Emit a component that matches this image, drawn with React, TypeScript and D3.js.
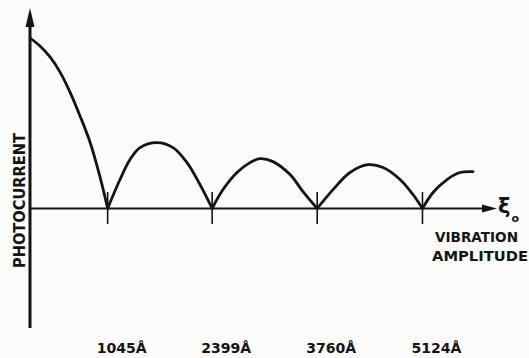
import React from "react";
import * as d3 from "d3";

// Tick values (vibration amplitude, Å) marking zeros of photocurrent
const zeroTicks = [1045, 2399, 3760, 5124];
const tickLabels = ["1045Å", "2399Å", "3760Å", "5124Å"];

// Curve segments: [amplitude Å, relative photocurrent]
const hump0: [number, number][] = [
  [39, 1.0], [168, 0.953], [298, 0.889], [428, 0.8], [557, 0.683],
  [687, 0.543], [816, 0.39], [946, 0.185], [1045, 0],
];
const hump1: [number, number][] = [
  [1045, 0], [1205, 0.17], [1335, 0.287], [1464, 0.357], [1684, 0.386],
  [1892, 0.357], [2073, 0.269], [2242, 0.14], [2399, 0],
];
const hump2: [number, number][] = [
  [2399, 0], [2540, 0.111], [2721, 0.211], [2889, 0.269], [3019, 0.292],
  [3187, 0.275], [3408, 0.199], [3576, 0.099], [3760, 0],
];
const hump3: [number, number][] = [
  [3760, 0], [3965, 0.111], [4185, 0.211], [4418, 0.257], [4613, 0.24],
  [4833, 0.17], [5001, 0.082], [5124, 0],
];
const hump4: [number, number][] = [
  [5124, 0], [5261, 0.094], [5442, 0.17], [5610, 0.211], [5779, 0.216],
];
const segments = [hump0, hump1, hump2, hump3, hump4];

const W = 529;
const H = 358;

export default function App() {
  const x = d3.scaleLinear().domain([0, 6000]).range([27, 27 + 0.07718 * 6000]);
  const baseY = 208.5;
  const y = d3.scaleLinear().domain([0, 1]).range([baseY, 38]);
  const line = d3
    .line<[number, number]>()
    .x((d) => x(d[0]))
    .y((d) => y(d[1]))
    .curve(d3.curveCatmullRom.alpha(0.5));

  const axisX = 30;
  const ink = "#141414";
  const font = "'DejaVu Sans', 'Liberation Sans', sans-serif";

  return (
    <svg
      width={W}
      height={H}
      style={{ position: "absolute", left: 0, top: 0, background: "#fbfbfa" }}
    >
      <rect width={W} height={H} fill="#fbfbfa" />
      {/* vertical axis */}
      <line x1={axisX} x2={axisX} y1={24} y2={328} stroke={ink} strokeWidth={3} />
      <path d={`M${axisX},8 L${axisX - 4.5},27 L${axisX + 4.5},27 Z`} fill={ink} />
      {/* horizontal axis */}
      <line x1={axisX} x2={485} y1={baseY} y2={baseY} stroke={ink} strokeWidth={2} />
      <path d={`M497,${baseY} L482,${baseY - 4} L482,${baseY + 4} Z`} fill={ink} />
      {/* ticks */}
      {zeroTicks.map((t) => (
        <line key={t} x1={x(t)} x2={x(t)} y1={192} y2={224} stroke={ink} strokeWidth={1.6} />
      ))}
      {/* curve */}
      {segments.map((s, i) => (
        <path
          key={i}
          d={line(s) || ""}
          fill="none"
          stroke={ink}
          strokeWidth={2.8}
          strokeLinejoin="round"
          strokeLinecap="round"
        />
      ))}
      {/* tick labels */}
      {tickLabels.map((lab, i) => (
        <text
          key={lab}
          x={x(zeroTicks[i]) - 11}
          y={353}
          fontFamily={font}
          fontWeight="bold"
          fontSize={14}
          fill={ink}
          textLength={50}
          lengthAdjust="spacingAndGlyphs"
        >
          {lab}
        </text>
      ))}
      {/* y label */}
      <text
        transform="translate(24.5,200.5) rotate(-90)"
        textAnchor="middle"
        fontFamily={font}
        fontWeight="bold"
        fontSize={16}
        fill={ink}
        textLength={135}
        lengthAdjust="spacingAndGlyphs"
      >
        PHOTOCURRENT
      </text>
      {/* x symbol */}
      <text x={498} y={213} fontFamily={font} fontWeight="bold" fontSize={21} fill={ink}>
        ξ
        <tspan fontSize={11} fontWeight="bold" dy={9} dx={1}>o</tspan>
      </text>
      <text
        x={435}
        y={242}
        fontFamily={font}
        fontWeight="bold"
        fontSize={14}
        fill={ink}
        textLength={83}
        lengthAdjust="spacingAndGlyphs"
      >
        VIBRATION
      </text>
      <text
        x={432}
        y={261}
        fontFamily={font}
        fontWeight="bold"
        fontSize={14}
        fill={ink}
        textLength={96}
        lengthAdjust="spacingAndGlyphs"
      >
        AMPLITUDE
      </text>
    </svg>
  );
}
